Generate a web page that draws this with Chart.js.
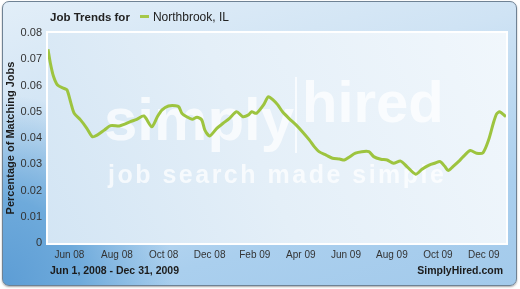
<!DOCTYPE html>
<html lang="en">
<head>
  <meta charset="UTF-8">
  <title>Job Trends for Northbrook, IL</title>
  <script src="https://cdn.jsdelivr.net/npm/chart.js"></script>
  <style>
    html, body { margin: 0; padding: 0; width: 520px; height: 289px; overflow: hidden; background: #fff; font-family: Arial, "Liberation Sans", sans-serif; }
    .frame { position: absolute; left: 2px; top: 1px; width: 513px; height: 283px; border: 1px solid #6f8294; border-radius: 7px;
      background: radial-gradient(ellipse 170px 190px at 0% 100%, #5d9dd5 0%, #6eaadb 45%, rgba(120,175,225,0) 100%),
                  linear-gradient(165deg, #e2eef8 0%, #cfe3f4 35%, #aacfee 75%, #a3caeb 100%);
      box-shadow: 0 1px 2px rgba(0,0,0,.35); }
    canvas { position: absolute; left: 0; top: 0; }
    .title { position: absolute; left: 50px; top: 10px; font-size: 12px; color: #222; white-space: nowrap; }
    .title b { font-size: 11.5px; }
    .title .key { display: inline-block; width: 9px; height: 3px; background: #a6c84a; margin: 0 4px 0 10px; vertical-align: middle; position: relative; top: -1px; }
    .foot { position: absolute; top: 264px; font-size: 10.5px; font-weight: bold; color: #1c1c1c; white-space: nowrap; }
  </style>
</head>
<body>
  <div class="frame"></div>
  <canvas id="chart" width="520" height="289"></canvas>
  <div class="title"><b>Job Trends for</b><span class="key"></span>Northbrook, IL</div>
  <div class="foot" style="left:50px">Jun 1, 2008 - Dec 31, 2009</div>
  <div class="foot" style="right:17px">SimplyHired.com</div>

  <script>
    // days since Jun 1, 2008
    const days = [0, 3, 7, 12, 20, 24, 29, 33, 41, 49, 56, 62, 71, 79, 90, 96, 104, 112, 121, 131,
      138, 144, 152, 161, 165, 169, 175, 182, 188, 194, 198, 204, 213, 221, 229, 238, 246, 253, 257, 263,
      272, 278, 284, 290, 296, 304, 313, 321, 330, 336, 342, 351, 359, 368, 374, 380, 388, 396, 405, 411,
      420, 428, 436, 445, 453, 464, 472, 481, 488, 495, 501, 505, 511, 520, 526, 533, 541, 549, 556, 562,
      566, 570, 577, 578];
    const share = [0.0738, 0.0685, 0.0634, 0.0602, 0.0589, 0.0583, 0.0532, 0.0494, 0.0469, 0.0437, 0.0405, 0.0411, 0.0430, 0.0447, 0.0446, 0.0452, 0.0462, 0.0471, 0.0484, 0.0443,
      0.0481, 0.0507, 0.0522, 0.0523, 0.0519, 0.0494, 0.0481, 0.0471, 0.0479, 0.0469, 0.0430, 0.0408, 0.0437, 0.0456, 0.0475, 0.0500, 0.0481, 0.0488, 0.0500, 0.0494,
      0.0526, 0.0557, 0.0545, 0.0526, 0.0500, 0.0475, 0.0450, 0.0424, 0.0392, 0.0367, 0.0348, 0.0335, 0.0323, 0.0320, 0.0316, 0.0327, 0.0342, 0.0348, 0.0348, 0.0329,
      0.0319, 0.0316, 0.0304, 0.0312, 0.0291, 0.0262, 0.0281, 0.0297, 0.0304, 0.0310, 0.0291, 0.0276, 0.0291, 0.0316, 0.0335, 0.0352, 0.0342, 0.0344, 0.0392, 0.0456,
      0.0491, 0.0500, 0.0484, 0.0482];
    const tickLabels = ['Jun 08', 'Aug 08', 'Oct 08', 'Dec 08', 'Feb 09', 'Apr 09', 'Jun 09', 'Aug 09', 'Oct 09', 'Dec 09'];
    const tickDays = [27, 87, 146, 204, 261, 319, 376, 434, 492, 550];

    Chart.defaults.font.family = 'Arial, "Liberation Sans", sans-serif';

    const plotBg = {
      id: 'plotBg',
      beforeDraw(chart) {
        const { ctx, chartArea: a } = chart;
        ctx.save();
        const g = ctx.createLinearGradient(a.left, a.bottom, a.right, a.top);
        g.addColorStop(0, '#d3e5f4');
        g.addColorStop(0.45, '#e4eff8');
        g.addColorStop(1, '#f1f7fc');
        ctx.fillStyle = g;
        ctx.fillRect(a.left, a.top, a.right - a.left, a.bottom - a.top);
        ctx.strokeStyle = '#ffffff';
        ctx.lineWidth = 2;
        ctx.strokeRect(a.left - 1, a.top - 1, a.right - a.left + 2, a.bottom - a.top + 2);
        ctx.restore();
      },
      beforeDatasetsDraw(chart) {
        const ctx = chart.ctx;
        ctx.save();
        ctx.fillStyle = 'rgba(255,255,255,0.72)';
        ctx.textBaseline = 'alphabetic';
        ctx.font = 'bold 60px Arial, "Liberation Sans", sans-serif';
        ctx.fillText('simply', 104, 140);
        ctx.fillRect(295, 77, 2, 76);
        ctx.font = 'bold 58px Arial, "Liberation Sans", sans-serif';
        ctx.fillText('hired', 302, 122);
        ctx.font = 'bold 25px Arial, "Liberation Sans", sans-serif';
        const txt = 'job search made simple';
        const w = ctx.measureText(txt).width;
        ctx.letterSpacing = ((335 - w) / (txt.length - 1)).toFixed(1) + 'px';
        ctx.fillText(txt, 108, 183);
        ctx.restore();
      }
    };

    new Chart(document.getElementById('chart'), {
      type: 'line',
      data: {
        datasets: [{
          label: 'Northbrook, IL',
          data: days.map((d, i) => ({ x: d, y: share[i] })),
          borderColor: '#9dc43f',
          borderWidth: 3,
          pointRadius: 0,
          tension: 0.25,
          fill: false
        }]
      },
      options: {
        responsive: false,
        animation: false,
        layout: { padding: { top: 33, right: 14, left: 0, bottom: 0 } },
        plugins: { legend: { display: false }, tooltip: { enabled: false } },
        scales: {
          x: {
            type: 'linear', min: 0, max: 578,
            grid: { display: false, drawTicks: false },
            border: { display: false },
            afterBuildTicks: s => { s.ticks = tickDays.map(v => ({ value: v })); },
            afterFit: s => { s.height = 46; },
            ticks: { autoSkip: false, maxRotation: 0, padding: 6, color: '#333', font: { size: 10 },
              callback: (v, i) => tickLabels[i] }
          },
          y: {
            min: 0, max: 0.08,
            grid: { display: false, drawTicks: false },
            border: { display: false },
            afterFit: s => { s.width = 48; },
            ticks: { stepSize: 0.01, padding: 6, color: '#333', font: { size: 11 } },
            title: { display: true, text: 'Percentage of Matching Jobs', color: '#1c1c1c',
              font: { size: 11, weight: 'bold' }, padding: { top: 4, bottom: 0 } }
          }
        }
      },
      plugins: [plotBg]
    });
  </script>
</body>
</html>
